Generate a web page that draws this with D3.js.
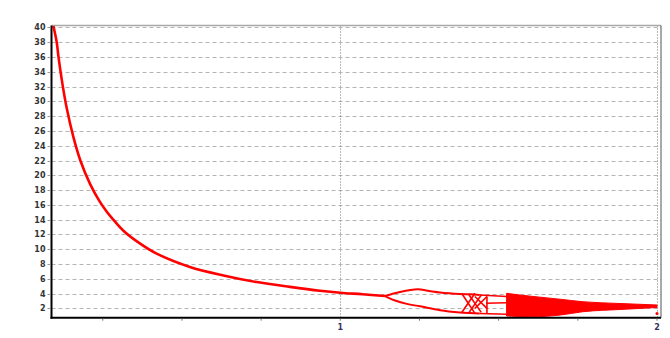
<!DOCTYPE html>
<html><head><meta charset="utf-8">
<script src="https://cdn.jsdelivr.net/npm/d3@7"></script>
<style>body{margin:0;background:#fff}svg{display:block}</style>
</head><body><svg id="chart" width="670" height="338"></svg>
<script>
// Single stable branch (period 1)
const stableX = [0.094, 0.1045, 0.1096, 0.1235, 0.136, 0.157, 0.18, 0.21, 0.238, 0.262, 0.283, 0.315, 0.368, 0.42, 0.525, 0.631, 0.736, 0.841, 0.936, 1.0, 1.07, 1.141];
const stableY = [40.2, 38.0, 36.2, 32.1, 29.1, 25.2, 21.9, 18.8, 16.6, 15.1, 14.0, 12.5, 10.75, 9.4, 7.6, 6.45, 5.55, 4.9, 4.38, 4.11, 3.9, 3.66];
// Period-2 branches after the first split
const upperX = [1.141, 1.188, 1.244, 1.28, 1.315, 1.378, 1.41, 1.44];
const upperY = [3.66, 4.21, 4.57, 4.35, 4.14, 3.94, 3.9, 3.8];
const lowerX = [1.141, 1.173, 1.21, 1.252, 1.315, 1.378, 1.41, 1.44];
const lowerY = [3.66, 3.06, 2.6, 2.27, 1.73, 1.43, 1.35, 1.3];
// Crossing orbits in the window region: [x0, y0, x1, y1]
const chaosLines = [
  [1.383, 4.03, 1.425, 1.32],
  [1.383, 1.40, 1.425, 4.03],
  [1.405, 3.90, 1.445, 1.45],
  [1.405, 1.35, 1.445, 3.80],
  [1.425, 3.60, 1.463, 2.00],
  [1.425, 2.00, 1.463, 3.60],
  [1.44, 3.80, 1.525, 3.60],
  [1.46, 2.68, 1.525, 2.75],
  [1.44, 1.30, 1.525, 1.20],
  [1.463, 3.60, 1.463, 1.30]
];
// Chaotic band envelope
const bandX = [1.525, 1.567, 1.608, 1.694, 1.766, 1.883, 2.0];
const bandTop = [4.03, 3.80, 3.61, 3.23, 2.89, 2.65, 2.45];
const bandBottom = [0.96, 0.89, 0.86, 1.09, 1.54, 1.84, 2.11];
// Isolated end point
const endPoint = [2.0, 1.30];
// Axis ticks
const yTicks = d3.range(2, 41, 2);
const xLabels = [1, 2];
const xMinor = [0.25, 0.5, 0.75, 1, 1.25, 1.5, 1.75, 2];

const svg = d3.select('#chart');
const L = 51.5, R = 661, T = 25.5, B = 317.7;
const x = d3.scaleLinear().domain([0.088, 2.0126]).range([L, R]);
const y = d3.scaleLinear().domain([0.73, 40.27]).range([B, T]);
const red = '#ff0000';

// horizontal dashed grid
svg.append('g').selectAll('line').data(yTicks).join('line')
  .attr('x1', L).attr('x2', R)
  .attr('y1', d => Math.round(y(d)) + 0.5).attr('y2', d => Math.round(y(d)) + 0.5)
  .attr('stroke', '#b4b4b4').attr('stroke-width', 1).attr('stroke-dasharray', '4,3');
// vertical dotted grid at x labels
svg.append('g').selectAll('line').data(xLabels).join('line')
  .attr('x1', d => Math.round(x(d)) + 0.5).attr('x2', d => Math.round(x(d)) + 0.5)
  .attr('y1', T).attr('y2', B)
  .attr('stroke', '#777').attr('stroke-width', 1).attr('stroke-dasharray', '1,2');
// top and right frame
svg.append('line').attr('x1', L).attr('x2', R).attr('y1', T).attr('y2', T)
  .attr('stroke', '#a8a8a8').attr('stroke-width', 1.5);
svg.append('line').attr('x1', R).attr('x2', R).attr('y1', T).attr('y2', B)
  .attr('stroke', '#555').attr('stroke-width', 1);

const line = d3.line().x(d => x(d[0])).y(d => y(d[1])).curve(d3.curveCatmullRom.alpha(0.5));

// band
const area = d3.area().x(d => x(d[0])).y0(d => y(d[2])).y1(d => y(d[1])).curve(d3.curveMonotoneX);
svg.append('path').datum(bandX.map((v, i) => [v, bandTop[i], bandBottom[i]]))
  .attr('d', area).attr('fill', red).attr('stroke', red).attr('stroke-width', 1);

// stable branch
svg.append('path').datum(stableX.map((v, i) => [v, stableY[i]]))
  .attr('d', line).attr('fill', 'none').attr('stroke', red).attr('stroke-width', 2.6);
// period-2 branches
[[upperX, upperY], [lowerX, lowerY]].forEach(([xs, ys]) => {
  svg.append('path').datum(xs.map((v, i) => [v, ys[i]]))
    .attr('d', line)
    .attr('fill', 'none').attr('stroke', red).attr('stroke-width', 2);
});
// window orbits
svg.append('g').selectAll('line').data(chaosLines).join('line')
  .attr('x1', d => x(d[0])).attr('y1', d => y(d[1]))
  .attr('x2', d => x(d[2])).attr('y2', d => y(d[3]))
  .attr('stroke', red).attr('stroke-width', 1.6);
svg.append('circle').attr('cx', x(endPoint[0])).attr('cy', y(endPoint[1])).attr('r', 1.5).attr('fill', red);

// axes
const font = 'DejaVu Sans, Verdana, sans-serif';
svg.append('line').attr('x1', L).attr('x2', L).attr('y1', T).attr('y2', B + 1)
  .attr('stroke', '#000').attr('stroke-width', 2);
svg.append('line').attr('x1', L - 1).attr('x2', R).attr('y1', B).attr('y2', B)
  .attr('stroke', '#000').attr('stroke-width', 2);
svg.append('g').selectAll('line').data(yTicks).join('line')
  .attr('x1', L - 4).attr('x2', L - 1)
  .attr('y1', d => Math.round(y(d)) + 0.5).attr('y2', d => Math.round(y(d)) + 0.5)
  .attr('stroke', '#999');
svg.append('g').selectAll('text').data(yTicks).join('text')
  .attr('x', L - 6).attr('y', d => y(d) + 3)
  .attr('text-anchor', 'end').attr('font-family', font).attr('font-weight', 'bold')
  .attr('font-size', 8).attr('fill', '#333').text(d => d);
svg.append('g').selectAll('line').data(xMinor).join('line')
  .attr('x1', d => x(d)).attr('x2', d => x(d)).attr('y1', B + 1).attr('y2', B + 3)
  .attr('stroke', '#777');
svg.append('g').selectAll('text').data(xLabels).join('text')
  .attr('x', d => x(d)).attr('y', B + 12)
  .attr('text-anchor', 'middle').attr('font-family', font).attr('font-weight', 'bold')
  .attr('font-size', 8).attr('fill', '#3a2f5a').text(d => d);
</script></body></html>
